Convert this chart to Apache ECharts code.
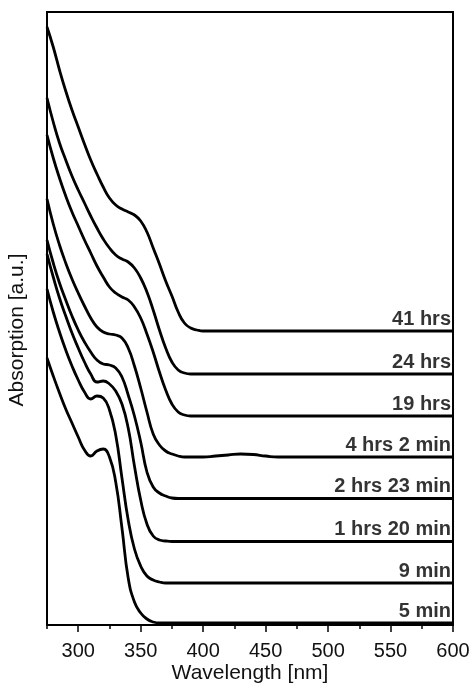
<!DOCTYPE html>
<html>
<head>
<meta charset="utf-8">
<script src="https://cdn.jsdelivr.net/npm/echarts@6/dist/echarts.min.js"></script>
<style>
html,body{margin:0;padding:0;background:#fff;}
#chart{width:469px;height:685px;}
</style>
</head>
<body>
<div id="chart"></div>
<script>
// Wavelength grid [nm]
const wavelengths = [275,280,285,290,295,300,305,310,315,320,325,330,335,340,345,350,355,360,365,370,375,380,385,390,395,400,410,420,430,440,450,460,480,500,550,600];

// Absorption [a.u.] (stacked offsets as in the figure)
const abs41h = [5.98,5.78,5.55,5.34,5.15,4.98,4.81,4.65,4.51,4.38,4.27,4.20,4.16,4.13,4.10,4.04,3.93,3.77,3.61,3.44,3.29,3.13,3.02,2.97,2.95,2.94,2.94,2.94,2.94,2.94,2.94,2.94,2.94,2.94,2.94,2.94];
const abs24h = [5.27,5.03,4.82,4.65,4.49,4.35,4.22,4.09,3.97,3.86,3.77,3.70,3.66,3.63,3.57,3.47,3.33,3.15,2.95,2.77,2.63,2.55,2.52,2.51,2.51,2.51,2.51,2.51,2.51,2.51,2.51,2.51,2.51,2.51,2.51,2.51];
const abs19h = [4.90,4.67,4.47,4.29,4.13,3.99,3.85,3.72,3.59,3.48,3.38,3.32,3.28,3.25,3.18,3.07,2.91,2.73,2.53,2.35,2.21,2.13,2.10,2.09,2.09,2.09,2.09,2.09,2.09,2.09,2.09,2.09,2.09,2.09,2.09,2.09];
const abs4h2m = [4.26,4.01,3.80,3.62,3.46,3.32,3.19,3.07,2.98,2.93,2.91,2.90,2.87,2.77,2.59,2.37,2.13,1.91,1.80,1.74,1.71,1.69,1.68,1.68,1.68,1.68,1.69,1.70,1.71,1.705,1.69,1.68,1.68,1.68,1.68,1.68];
const abs2h23m = [3.85,3.62,3.42,3.25,3.09,2.95,2.83,2.73,2.65,2.61,2.60,2.57,2.48,2.30,2.09,1.83,1.53,1.38,1.32,1.29,1.27,1.265,1.265,1.265,1.265,1.265,1.265,1.265,1.265,1.265,1.265,1.265,1.265,1.265,1.265,1.265];
const abs1h20m = [3.71,3.48,3.27,3.09,2.92,2.77,2.63,2.51,2.43,2.44,2.41,2.34,2.21,1.97,1.59,1.25,1.01,0.89,0.85,0.84,0.835,0.835,0.835,0.835,0.835,0.835,0.835,0.835,0.835,0.835,0.835,0.835,0.835,0.835,0.835,0.835];
const abs9m = [3.36,3.13,2.93,2.75,2.59,2.45,2.33,2.26,2.29,2.27,2.15,1.90,1.47,1.05,0.76,0.59,0.49,0.45,0.43,0.42,0.42,0.42,0.42,0.42,0.42,0.42,0.42,0.42,0.42,0.42,0.42,0.42,0.42,0.42,0.42,0.42];
const abs5m = [2.67,2.49,2.32,2.16,2.02,1.88,1.75,1.69,1.74,1.76,1.68,1.43,0.97,0.47,0.23,0.12,0.06,0.03,0.02,0.02,0.02,0.02,0.02,0.02,0.02,0.02,0.02,0.02,0.02,0.02,0.02,0.02,0.02,0.02,0.02,0.02];

const seriesNames = ['41 hrs','24 hrs','19 hrs','4 hrs 2 min','2 hrs 23 min','1 hrs 20 min','9 min','5 min'];
const seriesValues = [abs41h, abs24h, abs19h, abs4h2m, abs2h23m, abs1h20m, abs9m, abs5m];

const xMajorTicks = [300,350,400,450,500,550,600];
const xMinorTicks = [275,325,375,425,475,525,575];

const FONT = '"Liberation Sans", Arial, Helvetica, sans-serif';

const chart = echarts.init(document.getElementById('chart'), null, {renderer:'canvas'});

const series = [];
seriesValues.forEach((vals, k) => {
  series.push({
    type: 'line',
    name: seriesNames[k],
    data: wavelengths.map((w, i) => [w, vals[i]]),
    smooth: 0.5,
    showSymbol: false,
    symbol: 'none',
    lineStyle: {color: '#000', width: 2.8},
    silent: true,
    animation: false,
    z: 3
  });
  series.push({
    type: 'scatter',
    name: seriesNames[k] + ' label',
    data: [[wavelengths[wavelengths.length - 1], vals[vals.length - 1]]],
    symbolSize: 0,
    silent: true,
    animation: false,
    label: {
      show: true,
      position: 'top',
      align: 'right',
      distance: 2,
      offset: [-2, 0],
      formatter: seriesNames[k],
      fontFamily: FONT,
      fontWeight: 'bold',
      fontSize: 20,
      color: '#000'
    },
    z: 4
  });
});

chart.setOption({
  animation: false,
  backgroundColor: '#fff',
  grid: {left: 47, right: 16, top: 12, bottom: 60, show: true, borderColor: '#000', borderWidth: 2, containLabel: false, outerBoundsMode: 'none'},
  xAxis: [{
    type: 'value',
    min: 275,
    max: 600,
    name: 'Wavelength [nm]',
    nameLocation: 'middle',
    nameGap: 38,
    nameMoveOverlap: false,
    nameTextStyle: {fontFamily: FONT, fontSize: 21, color: '#111'},
    axisLine: {show: true, lineStyle: {color: '#000', width: 2}},
    axisTick: {show: true, length: 7, lineStyle: {color: '#000', width: 1.5}, customValues: xMajorTicks},
    axisLabel: {show: true, margin: 16, fontFamily: FONT, fontSize: 20, color: '#111', customValues: xMajorTicks},
    splitLine: {show: false}
  }, {
    type: 'value',
    min: 275,
    max: 600,
    position: 'bottom',
    axisLine: {show: false},
    axisTick: {show: true, length: 4, lineStyle: {color: '#000', width: 1.5}, customValues: xMinorTicks},
    axisLabel: {show: false},
    splitLine: {show: false}
  }],
  yAxis: {
    type: 'value',
    min: 0,
    max: 6.13,
    axisLine: {show: true, lineStyle: {color: '#000', width: 2}},
    axisTick: {show: false},
    axisLabel: {show: false},
    splitLine: {show: false}
  },
  graphic: [{
    type: 'text',
    x: 17,
    y: 330,
    rotation: Math.PI / 2,
    silent: true,
    style: {
      text: 'Absorption [a.u.]',
      font: '21px ' + FONT,
      fill: '#111',
      align: 'center',
      verticalAlign: 'middle',
      textAlign: 'center',
      textVerticalAlign: 'middle'
    }
  }],
  series: series
});
</script>
</body>
</html>
